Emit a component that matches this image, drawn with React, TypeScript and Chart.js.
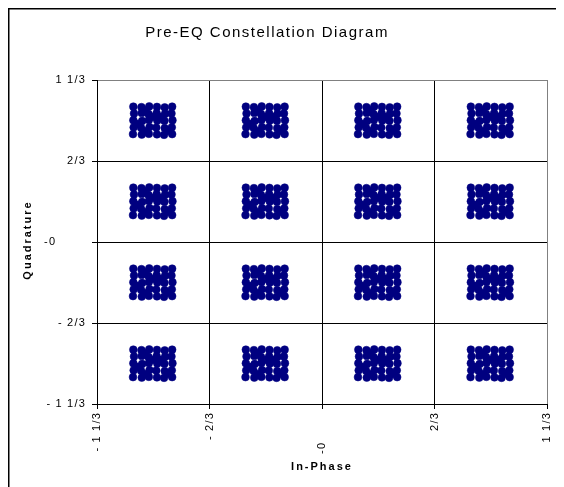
import React, { useEffect, useRef } from 'react';
import { Chart, registerables } from 'chart.js';

Chart.register(...registerables);

const TITLE = 'Pre-EQ Constellation Diagram';
const X_TITLE = 'In-Phase';
const Y_TITLE = 'Quadrature';

const tickValues = [-4 / 3, -2 / 3, 0, 2 / 3, 4 / 3];
const tickLabels = ['- 1 1/3', '- 2/3', '-0       ', '2/3', '1 1/3'];

// 16-QAM symbol levels (I and Q)
const symbolLevels = [-1, -1 / 3, 1 / 3, 1];

// scatter of received points around each symbol
const offsetI = [
  -0.118, -0.07, -0.024, 0.022, 0.068, 0.112,
  -0.114, -0.068, -0.028, 0.02, 0.07, 0.108,
  -0.118, -0.066, -0.026, 0.024, 0.066, 0.114,
  -0.116, -0.072, -0.022, 0.018, 0.068, 0.11,
  -0.12, -0.068, -0.026, 0.022, 0.064, 0.112,
  -0.046, 0.046,
  -0.092, 0.09,
  0.0, -0.046,
];
const offsetQ = [
  0.114, 0.11, 0.116, 0.112, 0.108, 0.114,
  0.058, 0.062, 0.054, 0.06, 0.056, 0.058,
  0.002, -0.004, 0.004, 0.0, -0.002, 0.002,
  -0.056, -0.06, -0.054, -0.058, -0.062, -0.056,
  -0.112, -0.116, -0.11, -0.114, -0.118, -0.112,
  0.086, 0.03,
  -0.028, -0.086,
  0.03, -0.088,
];

const FONT = '"Liberation Sans", Arial, sans-serif';
const W = 556;
const H = 479;

const decorPlugin = {
  id: 'decor',
  beforeDraw(chart: any) {
    chart.ctx.letterSpacing = '1.2px';
  },
  afterDraw(chart: any) {
    const ctx = chart.ctx;
    ctx.save();
    // outer frame (left & top visible)
    ctx.strokeStyle = '#000';
    ctx.lineWidth = 1.5;
    ctx.beginPath();
    ctx.moveTo(0.75, H);
    ctx.lineTo(0.75, 0.75);
    ctx.lineTo(W, 0.75);
    ctx.stroke();
    ctx.fillStyle = '#000';
    ctx.textAlign = 'center';
    ctx.textBaseline = 'middle';
    ctx.letterSpacing = '1.5px';
    ctx.font = `15px ${FONT}`;
    ctx.fillText(TITLE, 259, 25);
    ctx.letterSpacing = '2px';
    ctx.font = `bold 11px ${FONT}`;
    ctx.fillText(X_TITLE, 314, 459);
    ctx.translate(20, 232);
    ctx.rotate(-Math.PI / 2);
    ctx.fillText(Y_TITLE, 0, 0);
    ctx.restore();
  },
};

function labelFor(v: number) {
  let best = 0;
  for (let i = 0; i < tickValues.length; i++) {
    if (Math.abs(tickValues[i] - v) < Math.abs(tickValues[best] - v)) best = i;
  }
  return tickLabels[best];
}

export default function App() {
  const ref = useRef<HTMLCanvasElement>(null);
  useEffect(() => {
    document.body.style.overflow = 'hidden';
    const points: { x: number; y: number }[] = [];
    for (const qi of symbolLevels) {
      for (const ii of symbolLevels) {
        for (let k = 0; k < offsetI.length; k++) {
          points.push({ x: ii + offsetI[k], y: qi + offsetQ[k] });
        }
      }
    }
    const gridColor = (c: any) => (c.tick && c.tick.value > 1.3 ? '#808080' : '#000');
    const chart = new Chart(ref.current!, {
      type: 'scatter',
      data: {
        datasets: [
          {
            data: points,
            pointStyle: 'circle',
            pointRadius: 3.9,
            backgroundColor: '#000080',
            borderColor: '#000080',
            borderWidth: 0.5,
          },
        ],
      },
      plugins: [decorPlugin],
      options: {
        animation: false,
        responsive: false,
        layout: { padding: { top: 72, right: 17, bottom: 0, left: 0 } },
        plugins: { legend: { display: false }, tooltip: { enabled: false }, title: { display: false } },
        scales: {
          x: {
            type: 'linear',
            min: -4 / 3,
            max: 4 / 3,
            afterBuildTicks: (s: any) => {
              s.ticks = tickValues.map((v) => ({ value: v }));
            },
            afterFit: (s: any) => {
              s.height = 83;
            },
            grid: { color: gridColor, tickColor: '#000', tickLength: 5, lineWidth: 1 },
            border: { color: '#000', width: 1 },
            ticks: {
              autoSkip: false,
              minRotation: 90,
              maxRotation: 90,
              padding: 3,
              color: '#000',
              font: { family: FONT, size: 11 },
              callback: (v: any) => labelFor(Number(v)),
            },
          },
          y: {
            type: 'linear',
            min: -4 / 3,
            max: 4 / 3,
            afterBuildTicks: (s: any) => {
              s.ticks = tickValues.map((v) => ({ value: v }));
            },
            afterFit: (s: any) => {
              s.width = 89;
            },
            grid: { color: gridColor, tickColor: '#000', tickLength: 5, lineWidth: 1 },
            border: { color: '#000', width: 1 },
            ticks: {
              autoSkip: false,
              padding: 6,
              color: '#000',
              font: { family: FONT, size: 11 },
              callback: (v: any) => labelFor(Number(v)),
            },
          },
        },
      },
    });
    return () => chart.destroy();
  }, []);
  return <canvas ref={ref} width={W} height={H} style={{ display: 'block', width: W, height: H }} />;
}
